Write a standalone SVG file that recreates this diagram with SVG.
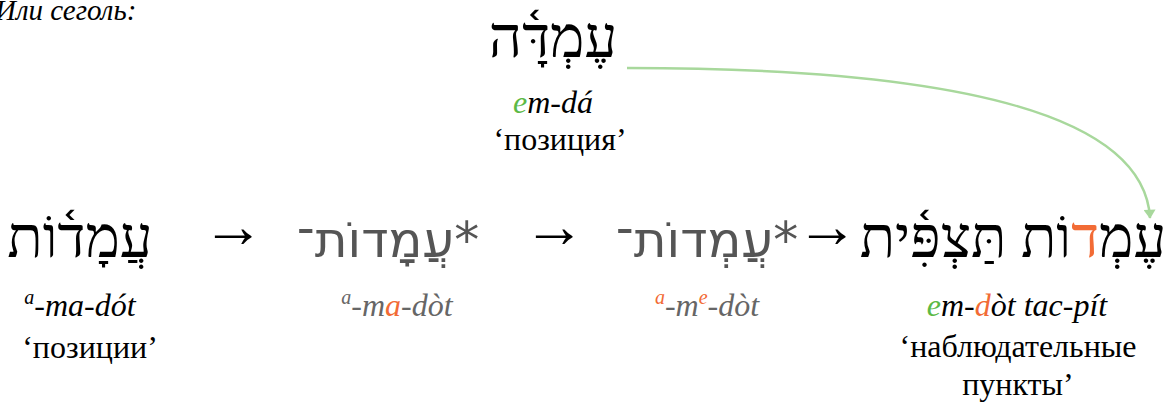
<svg xmlns="http://www.w3.org/2000/svg" width="1166" height="406" viewBox="0 0 1166 406">
<style>
.heb{font-family:"Liberation Serif","DejaVu Sans",serif;font-size:58px;fill:#000;}
.hebg{font-family:"DejaVu Sans","Liberation Sans",sans-serif;font-size:50px;fill:#555;}
.tr{font-family:"Liberation Serif",serif;font-style:italic;font-size:32px;fill:#000;}
.trg{font-family:"Liberation Serif",serif;font-style:italic;font-size:32px;fill:#666;}
.gl{font-family:"Liberation Serif",serif;font-size:32px;fill:#000;}
.arr{font-family:"Liberation Serif","DejaVu Serif",serif;font-size:62px;fill:#000;}
.g{fill:#5cb946;}
.o{fill:#f26b35;}
.sup{font-size:20px;}
</style>
<defs>
<marker id="ah" viewBox="0 0 12 16" refX="11" refY="8" markerWidth="16" markerHeight="12" markerUnits="userSpaceOnUse" orient="auto">
<path d="M0,0 L12,8 L0,16 z" fill="#a8d89c"/>
</marker>
</defs>
<text x="-5" y="20" font-family="Liberation Serif, serif" font-style="italic" font-size="29">Или сеголь:</text>
<g id="connectors">
<path d="M627,68 C880,68 1143,95 1150,218" fill="none" stroke="#a8d89c" stroke-width="2.5" marker-end="url(#ah)"/>
</g>
<g id="top">
<text class="heb" x="553" y="57" text-anchor="middle" direction="rtl">ע<tspan class="g">ֶ</tspan>מְדָּ֫ה</text>
<text class="tr" x="553" y="113" text-anchor="middle"><tspan class="g">e</tspan>m-dá</text>
<text class="gl" x="560" y="150" text-anchor="middle">‘позиция’</text>
</g>
<g id="n1">
<text class="heb" x="80" y="257" text-anchor="middle" direction="rtl">עֲמָד֫וֹת</text>
<text class="tr" x="80" y="316" text-anchor="middle"><tspan class="sup" dy="-12">a</tspan><tspan dy="12">-ma-dót</tspan></text>
<text class="gl" x="90" y="358" text-anchor="middle">‘позиции’</text>
</g>
<text class="arr" x="233" y="247" text-anchor="middle">→</text>
<g id="n2">
<text class="hebg" x="388" y="257" text-anchor="middle" direction="rtl">*עֲמ<tspan class="o">ָ</tspan>דוֹת־</text>
<text class="trg" x="397" y="316" text-anchor="middle"><tspan class="sup" dy="-12">a</tspan><tspan dy="12">-m</tspan><tspan class="o">a</tspan>-dòt</text>
</g>
<text class="arr" x="554" y="247" text-anchor="middle">→</text>
<g id="n3">
<text class="hebg" x="707" y="257" text-anchor="middle" direction="rtl">*ע<tspan class="o">ֲ</tspan>מ<tspan class="o">ְ</tspan>דוֹת־</text>
<text class="trg" x="707" y="316" text-anchor="middle"><tspan class="sup o" dy="-12">a</tspan><tspan dy="12">-m</tspan><tspan class="sup o" dy="-12">e</tspan><tspan dy="12">-dòt</tspan></text>
</g>
<text class="arr" x="827" y="247" text-anchor="middle">→</text>
<g id="n4">
<text class="heb" x="1013" y="257" text-anchor="middle" direction="rtl" font-size="57">ע<tspan class="g">ֶ</tspan>מ<tspan class="o">ְד</tspan>וֹת תַּצְפִּ֫ית</text>
<text class="tr" x="1017" y="316" text-anchor="middle"><tspan class="g">e</tspan>m-<tspan class="o">d</tspan>òt tac-pít</text>
<text class="gl" x="1018" y="357" text-anchor="middle">‘наблюдательные</text>
<text class="gl" x="1018" y="395" text-anchor="middle">пункты’</text>
</g>
</svg>
